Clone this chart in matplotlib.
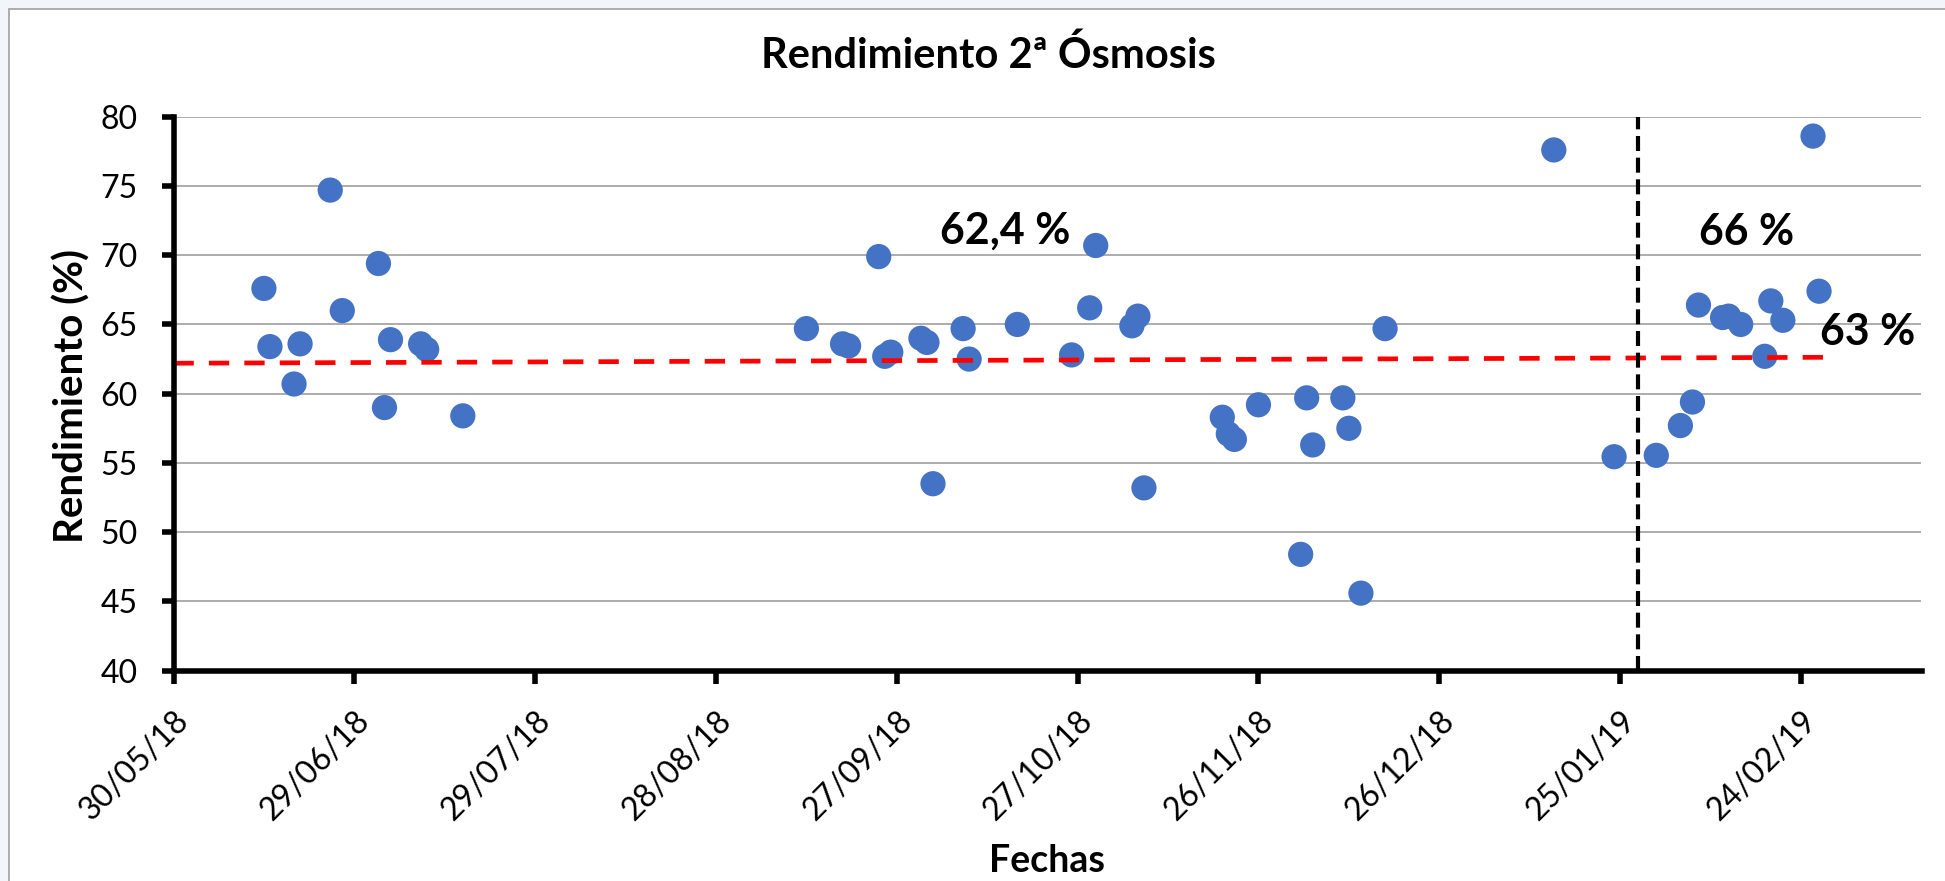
import matplotlib
matplotlib.use("Agg")
import matplotlib.pyplot as plt
import matplotlib.transforms as mtransforms
from matplotlib.patches import Rectangle
import pandas as pd

# datos
fechas = ['2018-06-14', '2018-06-15', '2018-06-19', '2018-06-20', '2018-06-25',
          '2018-06-27', '2018-07-03', '2018-07-04', '2018-07-05', '2018-07-10',
          '2018-07-11', '2018-07-17',
          '2018-09-12', '2018-09-18', '2018-09-19', '2018-09-24', '2018-09-25',
          '2018-09-26', '2018-10-01', '2018-10-02', '2018-10-03', '2018-10-08',
          '2018-10-09', '2018-10-17', '2018-10-26', '2018-10-29', '2018-10-30',
          '2018-11-05', '2018-11-06', '2018-11-07', '2018-11-20', '2018-11-21',
          '2018-11-22', '2018-11-26', '2018-12-03', '2018-12-04', '2018-12-05',
          '2018-12-10', '2018-12-11', '2018-12-13', '2018-12-17',
          '2019-01-14', '2019-01-24', '2019-01-31', '2019-02-04', '2019-02-06',
          '2019-02-07', '2019-02-11', '2019-02-12', '2019-02-14', '2019-02-18',
          '2019-02-19', '2019-02-21', '2019-02-26', '2019-02-27']
rendimiento = [67.6, 63.4, 60.7, 63.6, 74.7, 66.0, 69.4, 59.0, 63.9, 63.6,
               63.2, 58.4,
               64.7, 63.6, 63.45, 69.9, 62.7, 63.0, 64.0, 63.7, 53.5, 64.7,
               62.5, 65.0, 62.8, 66.2, 70.7, 64.9, 65.6, 53.2, 58.3, 57.1,
               56.7, 59.2, 48.4, 59.7, 56.3, 59.7, 57.5, 45.6, 64.7,
               77.6, 55.45, 55.55, 57.7, 59.4, 66.4, 65.5, 65.6, 65.0, 62.7,
               66.7, 65.3, 78.6, 67.4]

tendencia_fechas = ['2018-05-30', '2019-03-01']
tendencia_valores = [62.2, 62.63]
fecha_cambio = '2019-01-28'

etiquetas = ['62,4 %', '66 %', '63 %']
etiquetas_fechas = ['2018-10-15', '2019-02-15', '2019-03-07']
etiquetas_valores = [71.8, 71.65, 64.45]

x_ini = pd.Timestamp('2018-05-30')
x_fin = pd.Timestamp('2019-03-16')

plt.rcParams['font.family'] = ['Lato', 'DejaVu Sans']

fig = plt.figure(figsize=(19.45, 8.81), dpi=100, facecolor='#f2f6fb')
fig.patches.append(Rectangle((9 / 1945, -0.1), 1.2, 1.1 - 9 / 881,
                             transform=fig.transFigure, facecolor='white',
                             edgecolor='#a0a0a0', lw=1.2, zorder=0))

ax = fig.add_axes([173.5 / 1945, 1 - 670.7 / 881, 1748 / 1945, 554 / 881])
ax.set_zorder(2)
ax.set_facecolor('none')

ax.scatter(pd.to_datetime(fechas), rendimiento, s=330, color='#4472C4',
           edgecolors='none', zorder=3, clip_on=False)
ax.plot(pd.to_datetime(tendencia_fechas), tendencia_valores, color='red',
        lw=3.4, dashes=(4.3, 3.2), zorder=4)
ax.plot([pd.Timestamp(fecha_cambio)] * 2, [40, 80], color='black', lw=3,
        dashes=(3.6, 1.6), zorder=4, clip_on=False)

for t, f, v in zip(etiquetas, etiquetas_fechas, etiquetas_valores):
    ax.text(pd.Timestamp(f), v, t, fontsize=31, fontweight='bold',
            ha='center', va='center', zorder=5)

ax.set_xlim(x_ini, x_fin)
ax.set_ylim(40, 80)
ax.set_yticks(range(40, 81, 5))
ticks = pd.date_range(x_ini, periods=10, freq='30D')
ax.set_xticks(ticks)
ax.set_xticklabels([d.strftime('%d/%m/%y') for d in ticks], rotation=45,
                   ha='right', va='top', rotation_mode='anchor')
for lab in ax.get_xticklabels():
    lab.set_transform(lab.get_transform() +
                      mtransforms.ScaledTranslation(0.06, 0, fig.dpi_scale_trans))

ax.grid(axis='y', color='#a6a6a6', lw=1.3, zorder=1)
ax.set_axisbelow(True)
for s in ['top', 'right']:
    ax.spines[s].set_visible(False)
for s in ['left', 'bottom']:
    ax.spines[s].set_linewidth(4)
    ax.spines[s].set_zorder(6)
ax.tick_params(axis='y', length=9, width=4, pad=17, labelsize=23)
ax.tick_params(axis='x', length=9, width=4, pad=16, labelsize=23)

fig.text(988 / 1945, 1 - 68 / 881, 'Rendimiento 2ª Ósmosis', fontsize=30,
         fontweight='bold', ha='center', va='baseline')
fig.text(1047 / 1945, 1 - 872 / 881, 'Fechas', fontsize=27,
         fontweight='bold', ha='center', va='baseline')
fig.text(72 / 1945, 1 - 396 / 881, 'Rendimiento (%)', fontsize=29,
         fontweight='bold', ha='center', va='center', rotation=90)

fig.savefig('out.png', dpi=100, facecolor=fig.get_facecolor())
